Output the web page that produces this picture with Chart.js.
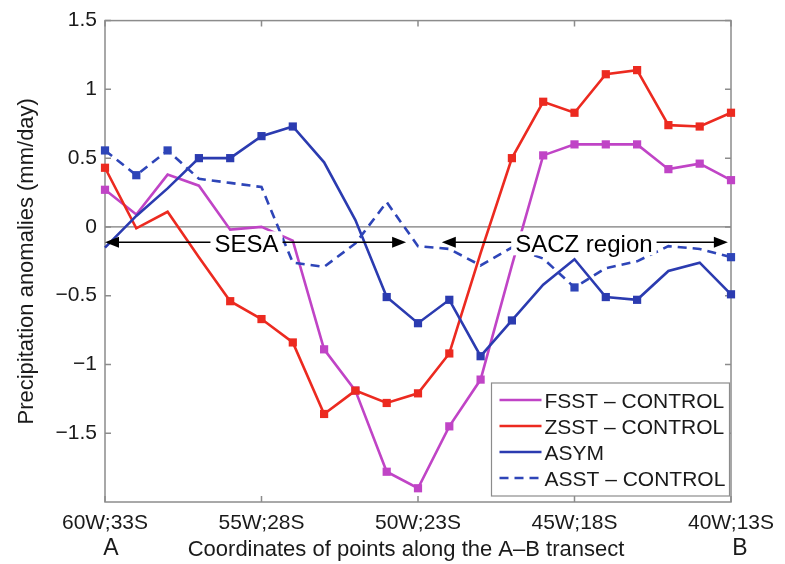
<!DOCTYPE html>
<html><head><meta charset="utf-8">
<script src="https://cdn.jsdelivr.net/npm/chart.js@4.4.1/dist/chart.umd.min.js"></script>
<style>html,body{margin:0;padding:0;background:#fff}canvas{display:block}</style>
</head><body>
<canvas id="c" width="785" height="564"></canvas>
<script>
// ---- data ----
const categories = ["60W;33S","59W;32S","58W;31S","57W;30S","56W;29S","55W;28S","54W;27S","53W;26S","52W;25S","51W;24S","50W;23S","49W;22S","48W;21S","47W;20S","46W;19S","45W;18S","44W;17S","43W;16S","42W;15S","41W;14S","40W;13S"];
const xTickLabels = ["60W;33S","55W;28S","50W;23S","45W;18S","40W;13S"];
const yTicks = [-1.5,-1,-0.5,0,0.5,1,1.5];
const seriesNames = ["FSST \u2013 CONTROL","ZSST \u2013 CONTROL","ASYM","ASST \u2013 CONTROL"];
const fsst = [0.27,0.09,0.38,0.30,-0.02,0.00,-0.10,-0.89,-1.19,-1.78,-1.90,-1.45,-1.11,-0.28,0.52,0.60,0.60,0.60,0.42,0.46,0.34];
const zsst = [0.43,-0.01,0.11,-0.22,-0.54,-0.67,-0.84,-1.36,-1.19,-1.28,-1.21,-0.92,-0.19,0.50,0.91,0.83,1.11,1.14,0.74,0.73,0.83];
const asym = [-0.15,0.08,0.28,0.50,0.50,0.66,0.73,0.47,0.05,-0.51,-0.70,-0.53,-0.94,-0.68,-0.42,-0.235,-0.51,-0.53,-0.32,-0.26,-0.49];
const asst = [0.556,0.376,0.556,0.35,0.32,0.29,-0.26,-0.29,-0.12,0.18,-0.14,-0.16,-0.28,-0.15,-0.23,-0.44,-0.30,-0.25,-0.14,-0.16,-0.22];
// points flagged with a square marker in the figure
const fsstMarked = [1,0,0,0,0,0,0,1,1,1,1,1,1,0,1,1,1,1,1,1,1];
const zsstMarked = [1,0,0,0,1,1,1,1,1,1,1,1,0,1,1,1,1,1,1,1,1];
const asymMarked = [0,0,0,1,1,1,1,0,0,1,1,1,1,1,0,0,1,1,0,0,1];
const asstMarked = [1,1,1,0,0,0,0,0,0,0,0,0,0,0,0,1,0,0,0,0,1];
// region annotations (positions in data units: category index / mm per day)
const regions = [
  {text:"SESA", from:0, to:9.62, label:4.52, level:-0.112},
  {text:"SACZ region", from:10.76, to:19.9, label:15.3, level:-0.112}
];

// ---- style ----
const FONT = '"Liberation Sans", Arial, Helvetica, sans-serif';
const TXT = '#1a1a1a';
const MAG = '#C044C6', RED = '#EC2A20', BLUE = '#2B3BB0', BLUE2 = '#2E45B8';
const R = 5.8;
function ds(label, data, marks, color, dash, order){
  return {label, data, borderColor:color, backgroundColor:color, borderWidth:2.6,
    borderDash:dash, pointStyle:'rect', pointRadius:marks.map(m=>m?R:0),
    pointHoverRadius:marks.map(m=>m?R:0), pointBorderWidth:0, pointBackgroundColor:color,
    fill:false, tension:0, clip:false, order};
}

const decor = {
  id:'decor',
  beforeDatasetsDraw(chart){
    const {ctx, chartArea:a, scales:{x,y}} = chart;
    ctx.save();
    const y0 = y.getPixelForValue(0);
    ctx.strokeStyle='#5a5a5a'; ctx.lineWidth=1;
    ctx.beginPath(); ctx.moveTo(a.left,y0); ctx.lineTo(a.right,y0); ctx.stroke();
    ctx.strokeStyle='#8c8c8c'; ctx.lineWidth=1.5;
    ctx.strokeRect(a.left,a.top,a.right-a.left,a.bottom-a.top);
    const L=6;
    ctx.beginPath();
    xTickLabels.forEach(lbl=>{
      const px=x.getPixelForValue(categories.indexOf(lbl));
      ctx.moveTo(px,a.bottom); ctx.lineTo(px,a.bottom-L);
      ctx.moveTo(px,a.top); ctx.lineTo(px,a.top+L);
    });
    yTicks.forEach(v=>{
      const py=y.getPixelForValue(v);
      ctx.moveTo(a.left,py); ctx.lineTo(a.left+L,py);
      ctx.moveTo(a.right,py); ctx.lineTo(a.right-L,py);
    });
    ctx.stroke();
    ctx.restore();
  },
  afterDatasetsDraw(chart){
    const {ctx, chartArea:a, scales:{x,y}} = chart;
    ctx.save();
    // region arrows
    regions.forEach(r=>{
      const x1=x.getPixelForValue(r.from), x2=x.getPixelForValue(r.to), py=y.getPixelForValue(r.level);
      const hl=14, hw=5.5;
      ctx.strokeStyle='#000'; ctx.fillStyle='#000'; ctx.lineWidth=1.6;
      ctx.beginPath(); ctx.moveTo(x1+hl-1,py); ctx.lineTo(x2-hl+1,py); ctx.stroke();
      ctx.beginPath(); ctx.moveTo(x1,py); ctx.lineTo(x1+hl,py-hw); ctx.lineTo(x1+hl,py+hw); ctx.closePath(); ctx.fill();
      ctx.beginPath(); ctx.moveTo(x2,py); ctx.lineTo(x2-hl,py-hw); ctx.lineTo(x2-hl,py+hw); ctx.closePath(); ctx.fill();
      ctx.font='24px '+FONT;
      const w=ctx.measureText(r.text).width, cx=x.getPixelForValue(r.label);
      ctx.fillStyle='#fff'; ctx.fillRect(cx-w/2-4,py-11,w+8,24);
      ctx.fillStyle='#000'; ctx.textAlign='center'; ctx.textBaseline='alphabetic';
      ctx.fillText(r.text,cx,py+10);
    });
    // legend
    const W=238, H=113, lx=a.right-1.5-W, ly=a.bottom-6-H;
    ctx.fillStyle='#fff'; ctx.fillRect(lx,ly,W,H);
    ctx.strokeStyle='#8c8c8c'; ctx.lineWidth=1.2; ctx.strokeRect(lx,ly,W,H);
    ctx.font='21px '+FONT; ctx.textAlign='left'; ctx.textBaseline='alphabetic';
    chart.data.datasets.forEach((d,i)=>{
      const ey=ly+17+i*26;
      ctx.strokeStyle=d.borderColor; ctx.lineWidth=d.borderWidth; ctx.setLineDash(d.borderDash||[]);
      ctx.beginPath(); ctx.moveTo(lx+8,ey); ctx.lineTo(lx+50,ey); ctx.stroke();
      ctx.setLineDash([]);
      ctx.fillStyle=TXT; ctx.fillText(d.label,lx+53,ey+7.5);
    });
    ctx.restore();
  },
  afterDraw(chart){
    const {ctx, chartArea:a, scales:{x}} = chart;
    ctx.save();
    ctx.fillStyle=TXT; ctx.textAlign='center'; ctx.textBaseline='alphabetic';
    ctx.font='22px '+FONT;
    ctx.fillText('Coordinates of points along the A\u2013B transect',(a.left+a.right)/2-12,556);
    ctx.font='23px '+FONT;
    ctx.fillText('A',x.getPixelForValue(0)+6,555);
    ctx.fillText('B',x.getPixelForValue(categories.length-1)+9,555);
    ctx.translate(27,(a.top+a.bottom)/2); ctx.rotate(-Math.PI/2);
    ctx.font='22px '+FONT; ctx.textBaseline='middle';
    ctx.fillText('Precipitation anomalies (mm/day)',0,0);
    ctx.restore();
  }
};

new Chart(document.getElementById('c'),{
  type:'line',
  data:{labels:categories, datasets:[
    ds(seriesNames[0], fsst, fsstMarked, MAG, [], 4),
    ds(seriesNames[1], zsst, zsstMarked, RED, [], 3),
    ds(seriesNames[2], asym, asymMarked, BLUE, [], 2),
    ds(seriesNames[3], asst, asstMarked, BLUE2, [9,6], 1)
  ]},
  options:{
    responsive:false, animation:false, devicePixelRatio:1,
    layout:{padding:{top:15,right:54,bottom:0,left:0}},
    plugins:{legend:{display:false}, tooltip:{enabled:false}},
    events:[],
    scales:{
      x:{type:'category', offset:false, grid:{display:false,drawTicks:false}, border:{display:false},
        ticks:{autoSkip:false,maxRotation:0,minRotation:0,padding:9,color:TXT,font:{family:FONT,size:21},
          callback:(v,i)=> xTickLabels.includes(categories[i]) ? categories[i] : ''},
        afterFit:s=>{s.height=62;}},
      y:{min:-2,max:1.5, grid:{display:false,drawTicks:false}, border:{display:false},
        afterBuildTicks:s=>{s.ticks=yTicks.map(v=>({value:v}));},
        ticks:{padding:8,color:TXT,font:{family:FONT,size:21},
          callback:v=> String(v).replace('-','\u2212')},
        afterFit:s=>{s.width=105;}}
    }
  },
  plugins:[decor]
});
</script>
</body></html>
